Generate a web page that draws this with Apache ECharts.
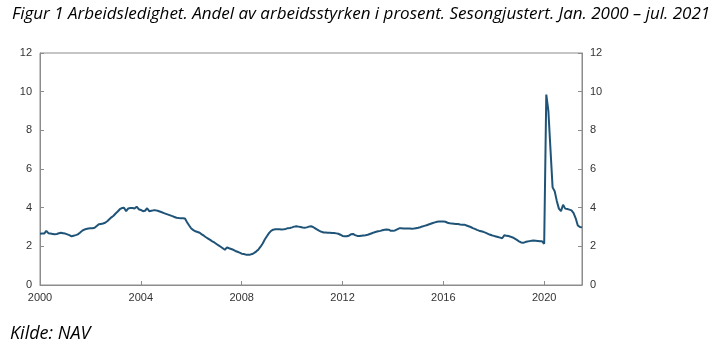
<!DOCTYPE html>
<html>
<head>
<meta charset="utf-8">
<script src="https://cdn.jsdelivr.net/npm/echarts@6/dist/echarts.min.js"></script>
<style>
  html, body { margin: 0; padding: 0; background: #fff; }
  #main { width: 719px; height: 351px; }
</style>
</head>
<body>
<div id="main"></div>
<script>
// Arbeidsledighet, andel av arbeidsstyrken (prosent), sesongjustert, måned for måned
var years = [2000, 2001, 2002, 2003, 2004, 2005, 2006, 2007, 2008, 2009, 2010,
             2011, 2012, 2013, 2014, 2015, 2016, 2017, 2018, 2019, 2020, 2021];
var labelYears = ['2000', '2004', '2008', '2012', '2016', '2020'];
var yTicks = [0, 2, 4, 6, 8, 10, 12];

var v2000 = [2.65, 2.66, 2.66, 2.80, 2.68, 2.66, 2.64, 2.62, 2.64, 2.68, 2.70, 2.68];
var v2001 = [2.66, 2.62, 2.58, 2.52, 2.55, 2.58, 2.62, 2.70, 2.80, 2.86, 2.90, 2.92];
var v2002 = [2.93, 2.94, 2.96, 3.05, 3.14, 3.16, 3.18, 3.22, 3.30, 3.40, 3.50, 3.58];
var v2003 = [3.70, 3.80, 3.92, 3.98, 4.00, 3.82, 3.96, 3.98, 3.98, 3.96, 4.05, 3.92];
var v2004 = [3.88, 3.82, 3.84, 3.97, 3.82, 3.84, 3.86, 3.86, 3.84, 3.80, 3.76, 3.72];
var v2005 = [3.68, 3.64, 3.60, 3.56, 3.52, 3.48, 3.46, 3.45, 3.45, 3.44, 3.25, 3.08];
var v2006 = [2.92, 2.84, 2.78, 2.74, 2.70, 2.62, 2.55, 2.47, 2.40, 2.33, 2.26, 2.20];
var v2007 = [2.12, 2.05, 1.98, 1.90, 1.82, 1.95, 1.90, 1.86, 1.82, 1.76, 1.72, 1.67];
var v2008 = [1.62, 1.60, 1.57, 1.56, 1.57, 1.60, 1.66, 1.74, 1.84, 1.98, 2.15, 2.35];
var v2009 = [2.52, 2.68, 2.80, 2.86, 2.88, 2.89, 2.88, 2.87, 2.88, 2.90, 2.94, 2.95];
var v2010 = [2.98, 3.02, 3.04, 3.02, 3.00, 2.97, 2.96, 2.98, 3.02, 3.04, 3.00, 2.93];
var v2011 = [2.86, 2.80, 2.75, 2.72, 2.71, 2.70, 2.70, 2.69, 2.69, 2.67, 2.65, 2.60];
var v2012 = [2.54, 2.52, 2.52, 2.55, 2.62, 2.64, 2.58, 2.54, 2.53, 2.55, 2.56, 2.57];
var v2013 = [2.60, 2.64, 2.68, 2.72, 2.75, 2.78, 2.80, 2.83, 2.86, 2.87, 2.86, 2.80];
var v2014 = [2.80, 2.82, 2.88, 2.93, 2.93, 2.92, 2.92, 2.92, 2.92, 2.91, 2.92, 2.94];
var v2015 = [2.96, 2.99, 3.03, 3.06, 3.09, 3.13, 3.17, 3.21, 3.24, 3.27, 3.28, 3.28];
var v2016 = [3.28, 3.27, 3.22, 3.19, 3.18, 3.17, 3.16, 3.15, 3.13, 3.12, 3.12, 3.08];
var v2017 = [3.04, 3.00, 2.94, 2.90, 2.85, 2.81, 2.78, 2.75, 2.71, 2.66, 2.61, 2.57];
var v2018 = [2.54, 2.51, 2.48, 2.45, 2.42, 2.57, 2.55, 2.53, 2.50, 2.46, 2.40, 2.33];
var v2019 = [2.26, 2.20, 2.18, 2.22, 2.25, 2.27, 2.29, 2.30, 2.29, 2.28, 2.26, 2.26];
var v2020 = [2.13, 9.85, 9.00, 7.00, 5.05, 4.85, 4.35, 3.95, 3.82, 4.15, 3.95, 3.93];
var v2021 = [3.90, 3.86, 3.72, 3.45, 3.08, 3.00, 2.98];

var values = [].concat(v2000, v2001, v2002, v2003, v2004, v2005, v2006, v2007,
  v2008, v2009, v2010, v2011, v2012, v2013, v2014, v2015, v2016, v2017, v2018,
  v2019, v2020, v2021);

// en kategori per måned, etiketten er årstallet
var months = [];
years.forEach(function (y) {
  for (var m = 1; m <= 12; m++) {
    if (months.length < values.length) months.push(String(y));
  }
});

function showYear(idx) {
  return idx % 12 === 0 && labelYears.indexOf(months[idx]) !== -1;
}

var axisGrey = '#8c8c8c';
var textCol = '#333333';

var yAxisBase = {
  type: 'value',
  min: yTicks[0],
  max: yTicks[yTicks.length - 1],
  interval: 2,
  axisLine: { show: true, lineStyle: { color: axisGrey } },
  axisTick: { show: true, inside: true, length: 4, lineStyle: { color: axisGrey } },
  axisLabel: { color: textCol, fontSize: 11, fontFamily: 'Liberation Sans', margin: 8 },
  splitLine: { show: false }
};

var myChart = echarts.init(document.getElementById('main'));
myChart.setOption({
  animation: false,
  title: {
    text: 'Figur 1 Arbeidsledighet. Andel av arbeidsstyrken i prosent. Sesongjustert. Jan. 2000 – jul. 2021',
    left: 7,
    top: 1,
    textStyle: {
      fontSize: 17, fontStyle: 'italic', fontWeight: 'normal',
      color: '#000', fontFamily: 'Open Sans'
    }
  },
  graphic: [{
    type: 'text',
    left: 10,
    top: 325,
    style: {
      text: 'Kilde: NAV',
      fontSize: 18, fontStyle: 'italic',
      fill: '#000', fontFamily: 'Open Sans'
    }
  }],
  grid: {
    left: 40, right: 137, top: 53, bottom: 66,
    show: true, borderColor: axisGrey, borderWidth: 1
  },
  xAxis: {
    type: 'category',
    data: months,
    boundaryGap: false,
    axisLine: { lineStyle: { color: axisGrey } },
    axisTick: { inside: true, length: 4, interval: showYear, lineStyle: { color: axisGrey } },
    axisLabel: {
      interval: showYear, color: textCol, fontSize: 11,
      fontFamily: 'Liberation Sans', margin: 7
    },
    splitLine: { show: false }
  },
  yAxis: [
    Object.assign({}, yAxisBase, { position: 'left' }),
    Object.assign({}, yAxisBase, { position: 'right' })
  ],
  series: [{
    name: 'Arbeidsledighet',
    type: 'line',
    data: values,
    showSymbol: false,
    symbol: 'none',
    lineStyle: { color: '#1f5478', width: 2 }
  }]
});
</script>
</body>
</html>
